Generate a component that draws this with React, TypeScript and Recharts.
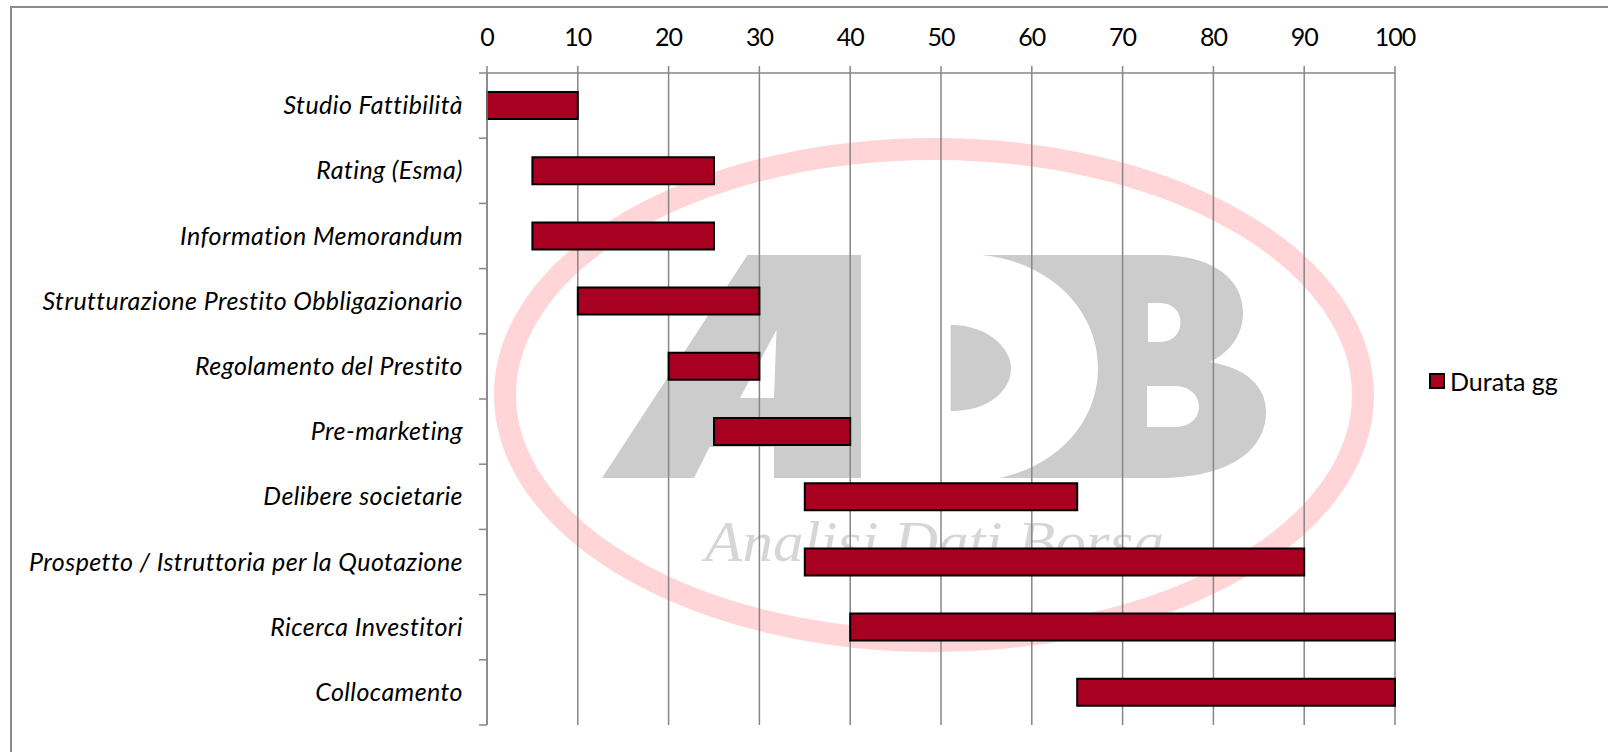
import React from "react";
import { BarChart, Bar, XAxis, YAxis, CartesianGrid, Legend } from "recharts";

const categories = [
  "Studio Fattibilità",
  "Rating (Esma)",
  "Information Memorandum",
  "Strutturazione Prestito Obbligazionario",
  "Regolamento del Prestito",
  "Pre-marketing",
  "Delibere societarie",
  "Prospetto / Istruttoria per la Quotazione",
  "Ricerca Investitori",
  "Collocamento",
];
const startValues = [0, 5, 5, 10, 20, 25, 35, 35, 40, 65];
const durataValues = [10, 20, 20, 20, 10, 15, 30, 55, 60, 35];
const xTicks = [0, 10, 20, 30, 40, 50, 60, 70, 80, 90, 100];
const data = categories.map((name, i) => ({ name, inizio: startValues[i], durata: durataValues[i] }));

const W = 1608;
const H = 752;
const FONT = "Lato, 'Open Sans', sans-serif";
const AXIS = "#868686";
const PLOT_TOP = 73;
const PLOT_BOTTOM = 725;
const PLOT_LEFT = 487;
const PLOT_RIGHT = 1395;
const BAND = (PLOT_BOTTOM - PLOT_TOP) / categories.length;

const CategoryTick = (props: any) => {
  const { y, payload, index } = props;
  const top = y - BAND / 2;
  const bottom = y + BAND / 2;
  return (
    <g>
      <line x1={479} x2={PLOT_LEFT} y1={top} y2={top} stroke={AXIS} strokeWidth={1.5} />
      {index === categories.length - 1 && (
        <line x1={479} x2={PLOT_LEFT} y1={bottom} y2={bottom} stroke={AXIS} strokeWidth={1.5} />
      )}
      <text
        x={463}
        y={y}
        dy={8.5}
        textAnchor="end"
        fontFamily={FONT}
        fontStyle="italic"
        fontSize={25}
        letterSpacing={0.42}
        fill="#000"
      >
        {payload.value}
      </text>
    </g>
  );
};

const LegendContent = () => (
  <div style={{ display: "flex", alignItems: "center", fontFamily: FONT, fontSize: 25, lineHeight: "28px", color: "#000" }}>
    <span
      style={{
        width: 12,
        height: 12,
        background: "#A80020",
        border: "2px solid #000",
        marginRight: 5,
        display: "inline-block",
      }}
    />
    Durata gg
  </div>
);

const Watermark = () => (
  <svg width={W} height={H} style={{ position: "absolute", left: 0, top: 0 }}>
    <ellipse cx={934} cy={395} rx={429} ry={246} fill="none" stroke="#FFD5D7" strokeWidth={22} />
    <path
      fillRule="evenodd"
      fill="#CCCCCC"
      d="M602 478 L747.5 255 L861 255 L861 478 L774 478 L774 447 L709.5 447 L694 478 Z
         M776.5 330 L774 398 L740 398 Z"
    />
    <path fill="#CCCCCC" d="M950.6 325 C990 325 1011 350 1011 368 C1011 390 990 411 950.6 411 Z" />
    <path
      fillRule="evenodd"
      fill="#CCCCCC"
      d="M982 255 L1158 255 C1215 255 1243 280 1243 313 C1243 335 1230 352 1210 362
         C1245 368 1266 385 1266 412 C1266 450 1230 478 1158 478 L999.7 478
         C1060 465 1098 420 1098 368 C1098 310 1050 262 982 255 Z
         M1148 303 L1160 303 C1173 303 1180.5 312 1180.5 322 C1180.5 333 1173 342 1160 342 L1148 342 Z
         M1147 386 L1175 386 C1190 386 1199 396 1199 406 C1199 418 1190 427 1175 427 L1147 427 Z"
    />
    <text
      x={705}
      y={561}
      fontFamily="'Liberation Serif', serif"
      fontStyle="italic"
      fontSize={58}
      fill="#D6D6D6"
      textLength={459}
      lengthAdjust="spacingAndGlyphs"
    >
      Analisi Dati Borsa
    </text>
  </svg>
);

export default function App() {
  return (
    <div style={{ position: "absolute", left: 0, top: 0, width: W, height: H, background: "#fff", overflow: "hidden" }}>
      <div
        style={{
          position: "absolute",
          left: 10,
          top: 6,
          width: W,
          height: H,
          borderLeft: "2px solid #8C8C8C",
          borderTop: "2px solid #8C8C8C",
        }}
      />
      <Watermark />
      <div style={{ position: "absolute", left: 0, top: 0 }}>
        <BarChart
          width={W}
          height={H}
          data={data}
          layout="vertical"
          barCategoryGap={0}
          margin={{ top: PLOT_TOP - 40, bottom: H - PLOT_BOTTOM, left: 0, right: W - PLOT_RIGHT }}
        >
          <CartesianGrid horizontal={false} stroke={AXIS} strokeWidth={1.5} />
          <XAxis
            type="number"
            orientation="top"
            domain={[0, 100]}
            ticks={xTicks}
            interval={0}
            height={40}
            tickSize={7}
            tickMargin={20}
            stroke={AXIS}
            strokeWidth={1.5}
            tick={{ fill: "#000", fontFamily: FONT, fontSize: 25, letterSpacing: -1 }}
          />
          <YAxis
            type="category"
            dataKey="name"
            width={PLOT_LEFT}
            interval={0}
            tickLine={false}
            stroke={AXIS}
            strokeWidth={1.5}
            tick={CategoryTick}
          />
          <Legend
            layout="horizontal"
            verticalAlign="middle"
            content={<LegendContent />}
            wrapperStyle={{ position: "absolute", left: 1429, top: 367, width: 170, bottom: "auto" }}
          />
          <Bar dataKey="inizio" stackId="a" fill="transparent" stroke="none" legendType="none" barSize={27} isAnimationActive={false} />
          <Bar dataKey="durata" name="Durata gg" stackId="a" fill="#A80020" stroke="#000" strokeWidth={2} barSize={27} isAnimationActive={false} />
        </BarChart>
      </div>
    </div>
  );
}
